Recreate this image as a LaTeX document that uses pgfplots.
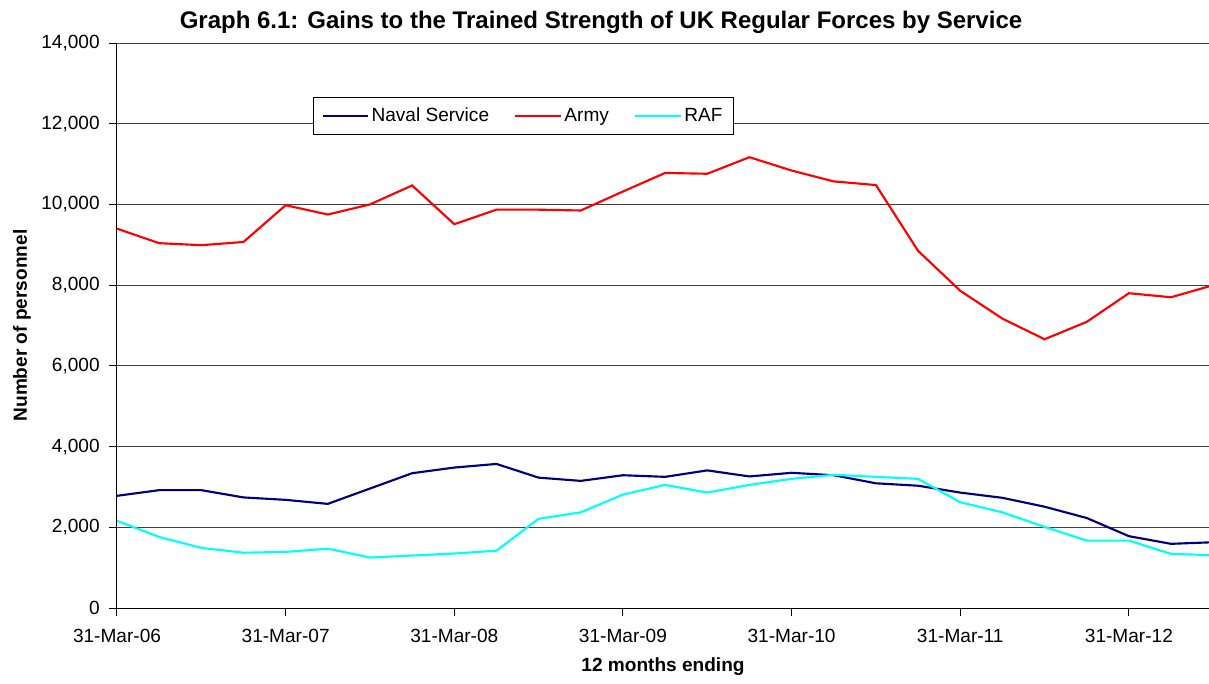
\documentclass[border=0pt]{standalone}
\usepackage{fontspec}
\setmainfont{Liberation Sans}
\usepackage{pgfplots}
\pgfplotsset{compat=1.18}
\usetikzlibrary{calc}

\definecolor{navalc}{RGB}{0,0,128}
\definecolor{armyc}{RGB}{255,0,0}
\definecolor{rafc}{RGB}{0,255,255}

\begin{document}
\begin{tikzpicture}[x=0.75pt,y=0.75pt]
\begin{axis}[
    name=ax,
    at={(0,0)}, anchor=south west,
    scale only axis,
    width=819pt, height=423.75pt,
    xmin=0, xmax=25.9,
    ymin=0, ymax=14000,
    clip=true,
    axis x line*=bottom,
    axis y line*=left,
    xtick={0,4,...,24},
    xticklabels={31-Mar-06,31-Mar-07,31-Mar-08,31-Mar-09,31-Mar-10,31-Mar-11,31-Mar-12},
    ytick={0,2000,...,14000},
    tick align=outside,
    major tick length=6pt,
    tick style={black, line width=0.75pt},
    axis line style={black, line width=0.75pt, -},
    ymajorgrids,
    grid style={black!75, line width=0.75pt},
    scaled y ticks=false,
    /pgf/number format/.cd, 1000 sep={,}, assume math mode=true,
    /pgfplots/.cd,
    ticklabel style={font=\fontsize{14.3}{16}\selectfont},
    xticklabel style={yshift=-6.5pt},
    yticklabel style={xshift=-3.5pt},
    xlabel={\bfseries 12 months ending},
    ylabel={\bfseries Number of personnel},
    xlabel style={font=\fontsize{14.3}{16}\selectfont, yshift=-4.5pt},
    ylabel style={font=\fontsize{14.3}{16}\selectfont, yshift=1pt},
    title={\bfseries Graph 6.1: Gains to the Trained Strength of UK Regular Forces by Service},
    title style={font=\fontsize{18}{20}\selectfont, xshift=-46.5pt, yshift=-2.5pt},
    legend columns=3,
    legend style={at={(0.1795,0.9044)}, anchor=north west, draw=black, line width=0.75pt,
        fill=white, font=\fontsize{14.3}{16}\selectfont,
        /tikz/every even column/.append style={column sep=17pt},
        inner xsep=6pt, inner ysep=6pt},
    legend image code/.code={\draw[#1, line width=1.5pt] (0pt,0pt) -- (34pt,0pt);},
]
\addplot[navalc, line width=1.6pt] coordinates {
 (0,2780) (1,2920) (2,2920) (3,2740) (4,2680) (5,2580) (6,2960) (7,3340) (8,3480)
 (9,3570) (10,3230) (11,3150) (12,3290) (13,3250) (14,3410) (15,3260) (16,3350)
 (17,3290) (18,3090) (19,3030) (20,2860) (21,2730) (22,2510) (23,2230) (24,1780)
 (25,1590) (26,1630)
};
\addlegendentry{Naval Service}
\addplot[armyc, line width=1.6pt] coordinates {
 (0,9400) (1,9040) (2,8990) (3,9070) (4,9980) (5,9750) (6,10000) (7,10470) (8,9510)
 (9,9870) (10,9870) (11,9850) (12,10320) (13,10780) (14,10760) (15,11170) (16,10840)
 (17,10570) (18,10480) (19,8850) (20,7860) (21,7170) (22,6660) (23,7090) (24,7800)
 (25,7700) (26,8000)
};
\addlegendentry{Army}
\addplot[rafc, line width=1.6pt] coordinates {
 (0,2160) (1,1760) (2,1490) (3,1370) (4,1390) (5,1470) (6,1250) (7,1300) (8,1350)
 (9,1420) (10,2210) (11,2370) (12,2810) (13,3050) (14,2860) (15,3050) (16,3200)
 (17,3300) (18,3250) (19,3200) (20,2620) (21,2370) (22,2010) (23,1670) (24,1670)
 (25,1340) (26,1310)
};
\addlegendentry{RAF}
\end{axis}
\pgfresetboundingbox
\path[use as bounding box] ($(ax.south west)+(-87.75pt,-56.25pt)$) rectangle ($(ax.north east)+(0pt,32.25pt)$);
\end{tikzpicture}
\end{document}
